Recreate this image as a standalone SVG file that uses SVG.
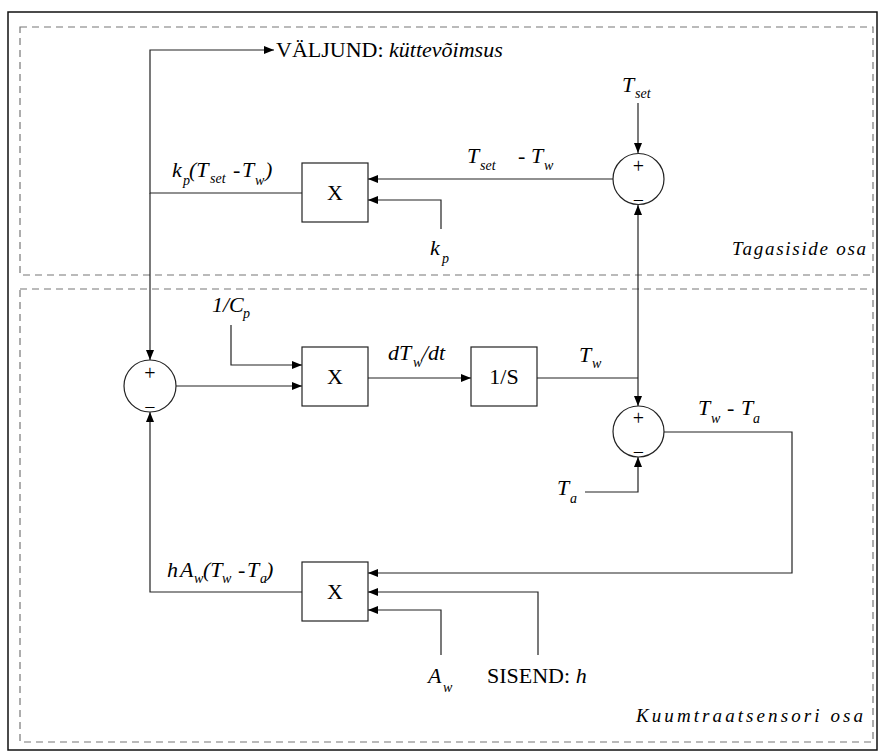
<svg xmlns="http://www.w3.org/2000/svg" width="881" height="756" viewBox="0 0 881 756" font-family="Liberation Serif, Times New Roman, serif">
<style>
text{font-family:"Liberation Serif","Times New Roman",serif;fill:#000}
.m{font-size:22px;font-style:italic}
.n{font-size:22px;font-style:normal}
.s{font-size:14px;font-style:italic}
.sign{font-size:20px;text-anchor:middle}
.box{fill:#fff;stroke:#222;stroke-width:1.2}
.sum{fill:#fff;stroke:#222;stroke-width:1.2}
.c{fill:none;stroke:#222;stroke-width:1.2}
.a{marker-end:url(#arr)}
.dash{fill:none;stroke:#777;stroke-width:1.2;stroke-dasharray:7 5}
.lab{font-size:19px;font-style:italic}
</style>
<defs>
<marker id="arr" markerUnits="userSpaceOnUse" markerWidth="10" markerHeight="8" refX="10" refY="4" orient="auto">
<path d="M0,0 L10,4 L0,8 z" fill="#000"/>
</marker>
</defs>
<rect x="0" y="0" width="881" height="756" fill="#fff"/>
<rect x="8" y="12" width="869" height="738" fill="none" stroke="#111" stroke-width="1.5"/>
<g id="region-feedback">
<rect class="dash" x="20" y="27" width="853" height="248"/>
<text class="lab" x="732" y="255" textLength="134" lengthAdjust="spacing">Tagasiside osa</text>
</g>
<g id="region-sensor">
<rect class="dash" x="20" y="289" width="853" height="453"/>
<text class="lab" x="636" y="722" textLength="227" lengthAdjust="spacing">Kuumtraatsensori osa</text>
</g>
<g id="connectors">
<path class="c a" d="M302,193 H150 V50 H274"/>
<path class="c a" d="M150,193 V360"/>
<path class="c a" d="M638,103 V153"/>
<path class="c a" d="M613,179 H368"/>
<path class="c a" d="M441,229 V200 H368"/>
<path class="c" d="M537,378 H638"/>
<path class="c a" d="M638,378 V205"/>
<path class="c a" d="M638,378 V406"/>
<path class="c a" d="M176,386 H302"/>
<path class="c a" d="M231,325 V365 H302"/>
<path class="c a" d="M368,378 H471"/>
<path class="c a" d="M664,432 H792 V573 H368"/>
<path class="c a" d="M585,492 H638 V457"/>
<path class="c a" d="M441,655 V610 H368"/>
<path class="c a" d="M538,655 V592 H368"/>
<path class="c a" d="M302,592 H150 V412"/>
</g>
<g id="sum-tset">
<circle class="sum" cx="638.5" cy="179" r="25.5"/>
<text class="sign" x="638.5" y="173">+</text>
<text class="sign" x="638.5" y="207">−</text>
</g>
<g id="sum-left">
<circle class="sum" cx="150" cy="386" r="26"/>
<text class="sign" x="150" y="380">+</text>
<text class="sign" x="150" y="414">−</text>
</g>
<g id="sum-right">
<circle class="sum" cx="638.5" cy="431.5" r="25.5"/>
<text class="sign" x="638.5" y="425">+</text>
<text class="sign" x="638.5" y="459">−</text>
</g>
<g id="mult-kp">
<rect class="box" x="302" y="163" width="66" height="59"/>
<text class="n" x="335" y="200" text-anchor="middle">X</text>
</g>
<g id="mult-cp">
<rect class="box" x="302" y="347" width="66" height="59"/>
<text class="n" x="335" y="384" text-anchor="middle">X</text>
</g>
<g id="integrator">
<rect class="box" x="471" y="347" width="66" height="59"/>
<text class="n" x="504" y="384" text-anchor="middle">1/S</text>
</g>
<g id="mult-h">
<rect class="box" x="302" y="562" width="66" height="59"/>
<text class="n" x="335" y="599" text-anchor="middle">X</text>
</g>
<g id="labels">
<text x="276" y="57"><tspan class="n">VÄLJUND: </tspan><tspan class="m">küttevõimsus</tspan></text>
<text><tspan class="m" x="622" y="92">T</tspan><tspan class="s" x="635" y="98">set</tspan></text>
<text><tspan class="m" x="467" y="163">T</tspan><tspan class="s" x="480" y="170">set</tspan><tspan class="m" x="518" y="163">-</tspan><tspan class="m" x="531" y="163">T</tspan><tspan class="s" x="544" y="170">w</tspan></text>
<text><tspan class="m" x="172" y="177">k</tspan><tspan class="s" x="183" y="185">p</tspan><tspan class="m" x="189" y="177">(T</tspan><tspan class="s" x="210" y="183">set</tspan><tspan class="m" x="233" y="177">-</tspan><tspan class="m" x="242" y="177">T</tspan><tspan class="s" x="255" y="185">w</tspan><tspan class="m" x="265" y="177">)</tspan></text>
<text><tspan class="m" x="430" y="255">k</tspan><tspan class="s" x="442" y="263">p</tspan></text>
<text><tspan class="m" x="212" y="312">1/C</tspan><tspan class="s" x="243" y="318">p</tspan></text>
<text><tspan class="m" x="388" y="360">dT</tspan><tspan class="s" x="413" y="367">w</tspan><tspan class="m" x="422" y="360">/dt</tspan></text>
<text><tspan class="m" x="579" y="362">T</tspan><tspan class="s" x="592" y="368">w</tspan></text>
<text><tspan class="m" x="698" y="415">T</tspan><tspan class="s" x="711" y="423">w</tspan><tspan class="m" x="727" y="415">-</tspan><tspan class="m" x="741" y="415">T</tspan><tspan class="s" x="753" y="423">a</tspan></text>
<text><tspan class="m" x="557" y="495">T</tspan><tspan class="s" x="570" y="503">a</tspan></text>
<text><tspan class="m" x="167" y="577">h</tspan><tspan class="m" x="180" y="577">A</tspan><tspan class="s" x="194" y="583">w</tspan><tspan class="m" x="203" y="577">(T</tspan><tspan class="s" x="222" y="583">w</tspan><tspan class="m" x="238" y="577">-</tspan><tspan class="m" x="247" y="577">T</tspan><tspan class="s" x="260" y="583">a</tspan><tspan class="m" x="266" y="577">)</tspan></text>
<text><tspan class="m" x="428" y="683">A</tspan><tspan class="s" x="443" y="692">w</tspan></text>
<text x="487" y="683"><tspan class="n">SISEND: </tspan><tspan class="m">h</tspan></text>
</g>
</svg>
